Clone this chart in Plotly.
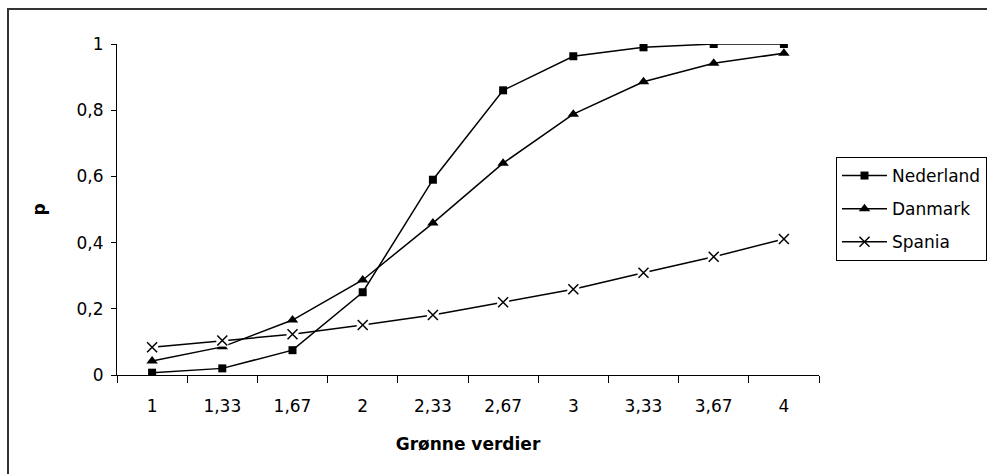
import plotly.graph_objects as go

categories = ["1", "1,33", "1,67", "2", "2,33", "2,67", "3", "3,33", "3,67", "4"]
nederland = [0.007, 0.02, 0.075, 0.25, 0.59, 0.86, 0.963, 0.99, 1.0, 1.0]
danmark = [0.042, 0.085, 0.166, 0.287, 0.459, 0.64, 0.788, 0.886, 0.942, 0.972]
spania = [0.084, 0.104, 0.123, 0.151, 0.181, 0.22, 0.259, 0.309, 0.357, 0.411]
y_ticks = [0, 0.2, 0.4, 0.6, 0.8, 1]
y_tick_labels = ["0", "0,2", "0,4", "0,6", "0,8", "1"]

W, H = 987, 474
L, R, T, B = 117, 168, 44, 99
pw, ph = W - L - R, H - T - B

FONT = "DejaVu Sans, Liberation Sans, Arial, sans-serif"

fig = go.Figure()
fig.add_trace(go.Scatter(x=categories, y=nederland, name="Nederland", mode="lines+markers",
                         legendgroup="a",
                         line=dict(color="black", width=1.5),
                         marker=dict(symbol="square", size=8, color="black")))
fig.add_trace(go.Scatter(x=categories, y=danmark, name="Danmark", mode="lines+markers",
                         legendgroup="b",
                         line=dict(color="black", width=1.5),
                         marker=dict(symbol="triangle-up", size=10, color="black")))
fig.add_trace(go.Scatter(x=categories, y=spania, name="Spania", mode="lines+markers",
                         legendgroup="c",
                         line=dict(color="black", width=1.5),
                         marker=dict(symbol="x-thin", size=10, color="black",
                                     line=dict(color="black", width=1.5))))
# white marker background of the Spania crosses (gives the gaps in the line)
fig.add_trace(go.Scatter(x=categories, y=spania, mode="markers", showlegend=False,
                         hoverinfo="skip", legendgroup="c",
                         marker=dict(symbol="square", size=12, color="white")))
fig.add_trace(go.Scatter(x=categories, y=spania, mode="markers", showlegend=False,
                         legendgroup="c", name="Spania",
                         marker=dict(symbol="x-thin", size=10, color="black",
                                     line=dict(color="black", width=1.5))))

fig.update_layout(
    width=W, height=H,
    margin=dict(l=L, r=R, t=T, b=B, autoexpand=False),
    paper_bgcolor="white", plot_bgcolor="white",
    font=dict(family=FONT, size=17, color="black"),
    separators=", ",
    xaxis=dict(type="category", categoryorder="array", categoryarray=categories,
               tickson="boundaries", ticks="outside", ticklen=7, tickcolor="black",
               showline=True, linecolor="black", linewidth=1, showgrid=False,
               zeroline=False, range=[-0.5, len(categories) - 0.5],
               ticklabelstandoff=16, automargin=False,
               title=dict(text="<b>Grønne verdier</b>", font=dict(size=17), standoff=22),
               tickfont=dict(size=17)),
    yaxis=dict(range=[0, 1], tickvals=y_ticks, ticktext=y_tick_labels,
               ticks="outside", ticklen=5, tickcolor="black",
               showline=True, linecolor="black", linewidth=1, showgrid=False,
               zeroline=False, ticklabelstandoff=4, automargin=False,
               title=dict(text="<b>p</b>", font=dict(size=17), standoff=26),
               tickfont=dict(size=17)),
    legend=dict(x=(836 - L) / pw, y=(H - B - 157) / ph, xanchor="left", yanchor="top",
                bordercolor="black", borderwidth=1, bgcolor="white",
                font=dict(size=17), tracegroupgap=8, itemwidth=45),
    showlegend=True,
    shapes=[dict(type="rect", xref="paper", yref="paper",
                 x0=(8 - L) / pw, x1=(W + 20 - L) / pw,
                 y0=(H - B - (H + 20)) / ph, y1=(H - B - 9) / ph,
                 line=dict(color="#333333", width=2), fillcolor="rgba(0,0,0,0)", layer="below")],
)

fig.write_html("out.html", config={"displayModeBar": False},
               post_script="document.body.style.margin='0';document.body.style.overflow='hidden';")
